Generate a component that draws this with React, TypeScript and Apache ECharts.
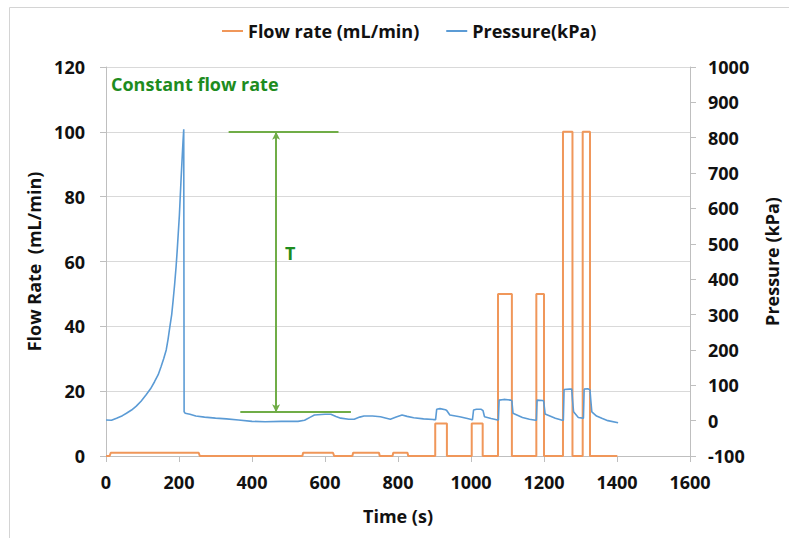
import React, { useEffect, useRef } from "react";
import * as echarts from "echarts";

// Flow rate step profile (time s, mL/min)
const flowTime = [0, 10, 13, 254, 257, 538, 540, 622, 625, 675, 677, 748, 750, 785, 787, 826, 828, 902, 902, 934, 934, 1002, 1002, 1032, 1032, 1074, 1074, 1112, 1112, 1179, 1179, 1200, 1200, 1252, 1252, 1278, 1278, 1306, 1306, 1326, 1326, 1401];
const flowRate = [0, 0, 1, 1, 0, 0, 1, 1, 0, 0, 1, 1, 0, 0, 1, 1, 0, 0, 10, 10, 0, 0, 10, 10, 0, 0, 50, 50, 0, 0, 50, 50, 0, 0, 100, 100, 0, 0, 100, 100, 0, 0];

// Pressure trace (time s, kPa)
const pressureTime = [0, 15, 29, 45, 56, 70, 83, 96, 110, 122, 133, 143, 151, 158, 165, 170, 175, 180, 184, 188, 192, 195, 198, 201, 203, 206, 209, 211, 213, 214, 217, 230, 246, 270, 300, 330, 363, 400, 436, 480, 526, 544, 560, 571, 600, 616, 630, 643, 665, 680, 695, 707, 730, 752, 768, 779, 795, 811, 825, 843, 870, 897, 903, 906, 915, 930, 934, 942, 969, 990, 1001, 1004, 1007, 1015, 1028, 1033, 1037, 1055, 1073, 1075, 1077, 1090, 1109, 1112, 1115, 1141, 1160, 1177, 1179, 1181, 1195, 1199, 1203, 1231, 1250, 1253, 1255, 1270, 1276, 1278, 1281, 1294, 1306, 1308, 1310, 1320, 1326, 1328, 1331, 1344, 1360, 1375, 1403];
const pressureKPa = [2, 1, 7, 14, 21, 30, 41, 55, 73, 90, 110, 130, 153, 175, 200, 230, 266, 300, 341, 385, 435, 480, 530, 580, 624, 690, 750, 790, 824, 25, 21, 18, 13, 10, 7, 5, 2, -2, -3, -2, -2, 1, 10, 16, 18, 18, 12, 7, 4, 4, 10, 13, 13, 11, 7, 4, 10, 16, 12, 8, 5, 3, 3, 32, 34, 31, 28, 16, 11, 6, 3, 3, 30, 32, 32, 28, 11, 6, 2, 2, 58, 60, 58, 56, 21, 9, 4, 1, 1, 58, 57, 56, 19, 7, 1, 1, 88, 89, 89, 60, 25, 9, 7, 7, 89, 90, 87, 60, 25, 13, 6, 0, -6];

// Annotation (data coordinates on the flow-rate axis)
const topBarTime = [336, 637];
const topBarValue = 100;
const bottomBarTime = [368, 671];
const bottomBarValue = 13.5;
const arrowTime = 466;

const FONT = "'Open Sans'";
const GREEN_LINE = "#70AD47";
const GREEN_TEXT = "#1E8C1E";
const plain = (v: number) => String(v);

export default function App() {
  const ref = useRef<HTMLDivElement>(null);
  useEffect(() => {
    if (!ref.current) return;
    const chart = echarts.init(ref.current, undefined, { renderer: "svg" });
    const flowData = flowTime.map((t, i) => [t, flowRate[i]]);
    const pressureData = pressureTime.map((t, i) => [t, pressureKPa[i]]);
    const labelStyle = { fontFamily: "Open Sans", fontSize: 18, fontWeight: "bold" as const, color: "#111" };
    chart.setOption({
      animation: false,
      backgroundColor: "#fff",
      textStyle: { fontFamily: "Open Sans" },
      legend: {
        top: 17,
        left: 217,
        icon: "rect",
        itemWidth: 21,
        itemHeight: 2,
        itemGap: 27,
        textStyle: { fontFamily: "Open Sans", fontSize: 18, fontWeight: "bold", color: "#111" },
        data: ["Flow rate (mL/min)", "Pressure(kPa)"],
      },
      grid: { left: 106, right: 92, top: 67, bottom: 82, containLabel: false },
      xAxis: {
        type: "value",
        min: 0,
        max: 1600,
        interval: 200,
        name: "Time (s)",
        nameLocation: "middle",
        nameGap: 51,
        nameTextStyle: { ...labelStyle },
        axisLine: { show: true, lineStyle: { color: "#bfbfbf", width: 1 } },
        axisTick: { show: true, length: 6, lineStyle: { color: "#bfbfbf" } },
        axisLabel: { ...labelStyle, margin: 17, formatter: plain },
        splitLine: { show: false },
      },
      yAxis: [
        {
          type: "value",
          min: 0,
          max: 120,
          interval: 20,
          name: "Flow Rate  (mL/min)",
          nameLocation: "middle",
          nameRotate: 90,
          nameGap: 60,
          nameTextStyle: { ...labelStyle },
          axisLine: { show: true, lineStyle: { color: "#bfbfbf", width: 1 } },
          axisTick: { show: true, length: 6, lineStyle: { color: "#bfbfbf" } },
          axisLabel: { ...labelStyle, margin: 21, formatter: plain },
          splitLine: { show: true, lineStyle: { color: "#d9d9d9", width: 1 } },
        },
        {
          type: "value",
          min: -100,
          max: 1000,
          interval: 100,
          position: "right",
          name: "Pressure (kPa)",
          nameLocation: "middle",
          nameRotate: 90,
          nameGap: 73,
          nameTextStyle: { ...labelStyle },
          axisLine: { show: true, lineStyle: { color: "#bfbfbf", width: 1 } },
          axisTick: { show: true, length: 6, lineStyle: { color: "#bfbfbf" } },
          axisLabel: { ...labelStyle, margin: 18, formatter: plain },
          splitLine: { show: false },
        },
      ],
      series: [
        {
          name: "Flow rate (mL/min)",
          type: "line",
          yAxisIndex: 0,
          data: flowData,
          symbol: "none",
          color: "#F0975A",
          lineStyle: { color: "#F0975A", width: 2 },
          z: 2,
          markLine: {
            silent: true,
            animation: false,
            label: { show: false },
            lineStyle: { color: GREEN_LINE, width: 2, type: "solid" },
            data: [
              [
                { coord: [topBarTime[0], topBarValue], symbol: "none" },
                { coord: [topBarTime[1], topBarValue], symbol: "none" },
              ],
              [
                { coord: [bottomBarTime[0], bottomBarValue], symbol: "none" },
                { coord: [bottomBarTime[1], bottomBarValue], symbol: "none" },
              ],
              [
                { coord: [arrowTime, topBarValue], symbol: "arrow", symbolSize: [6, 8] },
                { coord: [arrowTime, bottomBarValue], symbol: "arrow", symbolSize: [6, 8] },
              ],
            ],
          },
        },
        {
          name: "Pressure(kPa)",
          type: "line",
          yAxisIndex: 1,
          data: pressureData,
          symbol: "none",
          color: "#5B9BD5",
          lineStyle: { color: "#5B9BD5", width: 1.6 },
          z: 3,
        },
      ],
      graphic: [
        {
          type: "rect",
          silent: true,
          shape: { x: 9.5, y: 7.5, width: 900, height: 900 },
          style: { fill: "none", stroke: "#d4d4d4", lineWidth: 1 },
        },
        {
          type: "text",
          left: 111,
          top: 75,
          style: { text: "Constant flow rate", fill: GREEN_TEXT, font: `bold 18px ${FONT}` },
        },
        {
          type: "text",
          left: 285,
          top: 244,
          style: { text: "T", fill: GREEN_TEXT, font: `bold 18px ${FONT}` },
        },
      ],
    });
    return () => chart.dispose();
  }, []);
  return (
    <div
      ref={ref}
      style={{ position: "fixed", left: 0, top: 0, width: 789, height: 538, background: "#fff" }}
    />
  );
}
